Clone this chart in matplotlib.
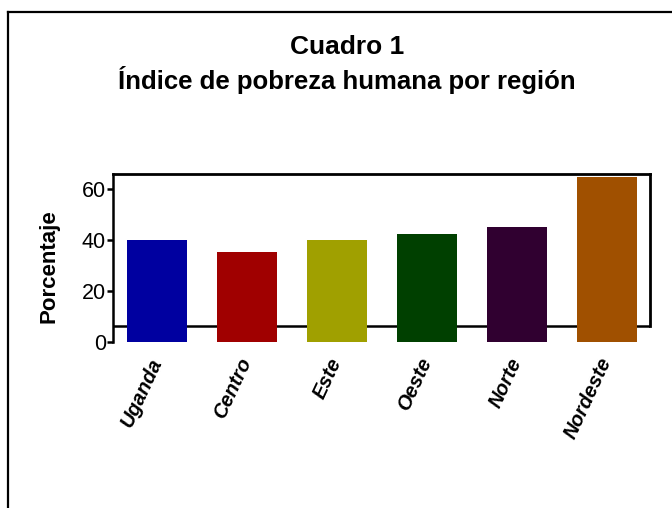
import matplotlib.pyplot as plt
from matplotlib.lines import Line2D

regiones = ['Uganda', 'Centro', 'Este', 'Oeste', 'Norte', 'Nordeste']
porcentaje = [40.0, 35.3, 40.0, 42.4, 45.1, 64.8]
colores = ['#0000A0', '#A00000', '#A0A000', '#004000', '#300030', '#A05000']

plt.rcParams['font.family'] = ['Liberation Sans', 'DejaVu Sans']

fig = plt.figure(figsize=(6.72, 5.08), dpi=100)
ax = fig.add_axes([0.168, 0.3268, 0.799, 0.3307])

# marco exterior (solo se ven el borde izquierdo y el superior)
fig.add_artist(Line2D([0.012, 0.012], [0, 0.976], transform=fig.transFigure, color='black', lw=1.6))
fig.add_artist(Line2D([0.012, 1.0], [0.976, 0.976], transform=fig.transFigure, color='black', lw=1.6))

x = range(len(regiones))
ax.bar(x, porcentaje, width=0.667, color=colores, zorder=3)

# caja del grafico: la linea inferior queda por encima de cero
base = 6.2
ax.axhline(base, color='black', lw=1.8, zorder=2)
ax.set_xlim(-0.49, 5.48)
ax.set_ylim(0, 66)
ax.spines['bottom'].set_visible(False)
ax.spines['left'].set_linewidth(1.8)
ax.spines['top'].set_linewidth(2.0)
ax.spines['right'].set_linewidth(2.0)
ax.spines['right'].set_bounds(base, 66)

ax.set_yticks([0, 20, 40, 60])
ax.tick_params(axis='y', direction='out', length=4.5, width=1.8, labelsize=15.5, pad=0.5)
ax.tick_params(axis='x', length=0, pad=12)
ax.set_xticks(list(x))
ax.set_xticklabels(regiones, rotation=65, ha='right', va='center', rotation_mode='anchor',
                   fontsize=14.5, fontweight='bold', fontstyle='italic')

ax.set_ylabel('Porcentaje', fontsize=16, fontweight='bold')
ax.yaxis.set_label_coords(-0.099, 0.452)

fig.text(0.516, 0.907, 'Cuadro 1', ha='center', va='center', fontsize=19, fontweight='bold')
fig.text(0.516, 0.842, 'Índice de pobreza humana por región', ha='center', va='center',
         fontsize=18.5, fontweight='bold')

fig.savefig('out.png', dpi=100)
